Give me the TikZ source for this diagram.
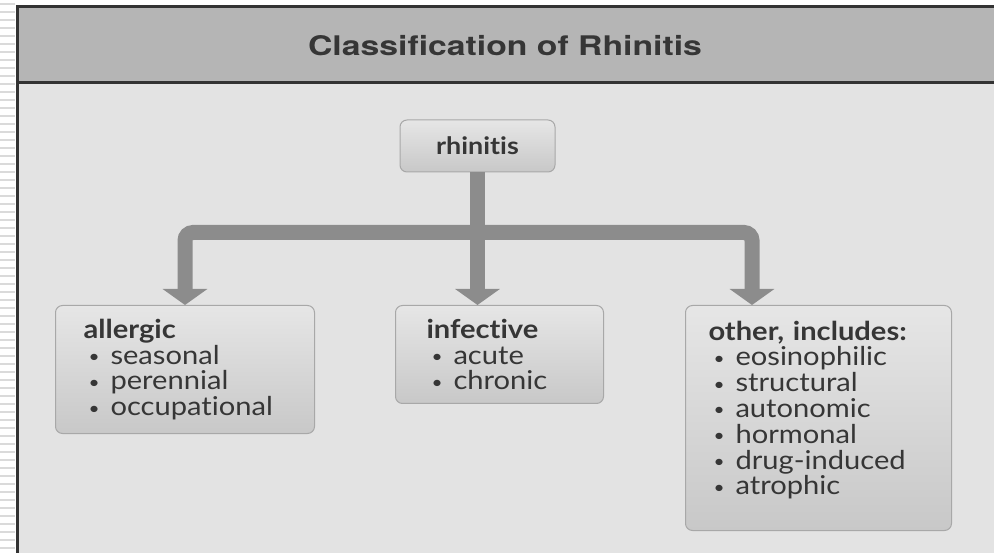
\documentclass[tikz,border=0pt]{standalone}
\usepackage{fontspec}
\setmainfont{Lato}[FakeStretch=1.12, Ligatures=NoCommon]
\newfontfamily\titlefont{TeX Gyre Heros}[FakeStretch=1.25]
\usetikzlibrary{arrows.meta,calc}

\definecolor{headgray}{HTML}{B5B5B5}
\definecolor{bodygray}{HTML}{E3E3E3}
\definecolor{framegray}{HTML}{333333}
\definecolor{stripegray}{HTML}{DADADA}
\definecolor{flowgray}{HTML}{8C8C8C}
\definecolor{boxedge}{HTML}{A8A8A8}
\definecolor{boxtop}{HTML}{E6E6E6}
\definecolor{boxbot}{HTML}{C8C8C8}
\definecolor{txtgray}{HTML}{363636}

\newcommand\bul[1]{\\\hspace*{5pt}\makebox[22pt][l]{\raisebox{1.5pt}{\fontsize{17}{17}\selectfont\textbullet}}#1}

\tikzset{
  catbox/.style={draw=boxedge, line width=1pt, rounded corners=7pt,
    top color=boxtop, bottom color=boxbot, anchor=north west, align=left,
    text=txtgray, inner ysep=0pt, font=\fontsize{26}{25.8}\selectfont},
  flow/.style={draw=flowgray, line width=15pt, rounded corners=8pt},
  flowtip/.tip={Triangle[width=44pt,length=16pt]}
}

\begin{document}
\begin{tikzpicture}[x=1pt,y=-1pt]
    \useasboundingbox (0,0) rectangle (994,553);
    % striped strip on the left
    \fill[white] (0,0) rectangle (994,553);
    \foreach \y in {3,11,...,553}
        \fill[stripegray] (0,\y) rectangle (15,\y+2);
    % header and body
    \fill[headgray] (16,6) rectangle (994,83);
    \fill[bodygray] (16,83) rectangle (994,553);
    \draw[framegray, line width=3pt] (17.5,553) -- (17.5,7) -- (994,7);
    \draw[framegray, line width=3pt] (16,82.5) -- (994,82.5);
    \node (title) at (505,46) {\titlefont\bfseries\fontsize{27}{29}\selectfont\color{txtgray}Classification of Rhinitis};

    % boxes
    \node[catbox, anchor=center, align=center, inner xsep=0pt, minimum width=155pt, minimum height=52pt,
          font=\bfseries\fontsize{24}{26}\selectfont] (rh) at (477.5,146) {rhinitis};
    \node[catbox, inner xsep=28pt, text width=203pt, minimum height=128pt] (al) at (55,305)
        {\textbf{allergic}\bul{seasonal}\bul{perennial}\bul{occupational}};
    \node[catbox, inner xsep=31pt, text width=146pt, minimum height=98pt] (inf) at (395,305)
        {\textbf{infective}\bul{acute}\bul{chronic}};
    \node[catbox, inner xsep=23pt, text width=220pt, minimum height=225pt] (oth) at (685,305)
        {\textbf{other, includes:}\bul{eosinophilic}\bul{structural}\bul{autonomic}\bul{hormonal}\bul{drug-induced}\bul{atrophic}\par\vspace{16pt}};

    % connectors
    \coordinate (jn) at ($(rh.south)+(0,60)$);
    \coordinate (rt) at ($(oth.north west)+(67,0)$);
    \draw[flow, -flowtip] (rh.south) -- (rh.south |- inf.north);
    \draw[flow, flowtip-flowtip] (al.north) |- (jn) -| (rt);
\end{tikzpicture}
\end{document}
